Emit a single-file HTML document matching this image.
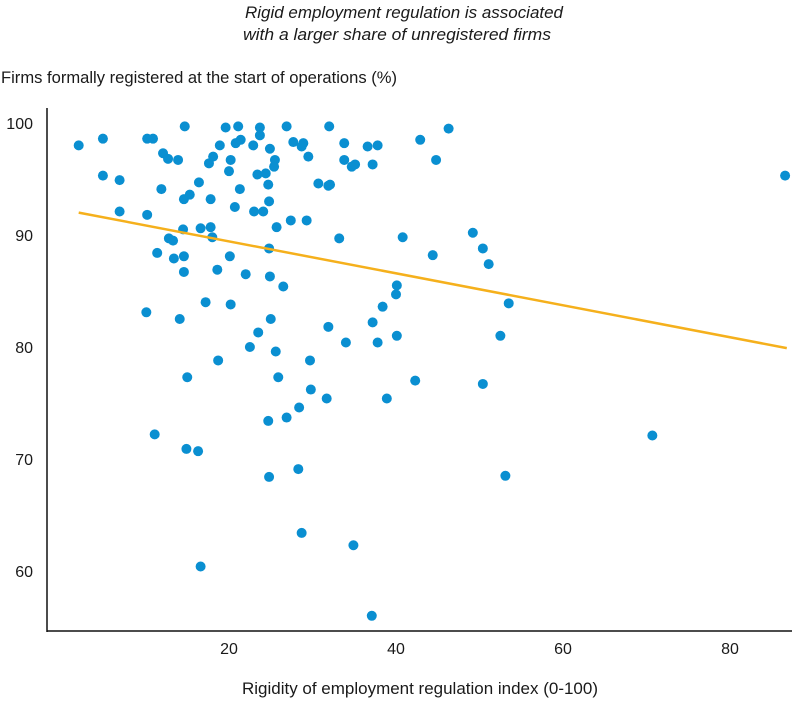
<!DOCTYPE html>
<html><head><meta charset="utf-8">
<style>
body{margin:0;background:#fff;width:800px;height:699px;overflow:hidden;font-family:"Liberation Sans Narrow","Liberation Sans",sans-serif;}
svg text{font-family:"Liberation Sans Narrow","Liberation Sans",sans-serif;fill:#1a1a1a;}
</style></head>
<body>
<svg id="chart" width="800" height="699" xmlns="http://www.w3.org/2000/svg">
<text x="404" y="18" text-anchor="middle" font-size="17" font-style="italic" textLength="318" lengthAdjust="spacingAndGlyphs">Rigid employment regulation is associated</text>
<text x="397" y="40" text-anchor="middle" font-size="17" font-style="italic" textLength="308" lengthAdjust="spacingAndGlyphs">with a larger share of unregistered firms</text>
<text x="1" y="83" font-size="17" textLength="396" lengthAdjust="spacingAndGlyphs">Firms formally registered at the start of operations (%)</text>
<text x="420" y="694" text-anchor="middle" font-size="17" textLength="356" lengthAdjust="spacingAndGlyphs">Rigidity of employment regulation index (0-100)</text>
<line x1="47" y1="108" x2="47" y2="632" stroke="#111" stroke-width="1.5"/>
<line x1="47" y1="631" x2="792" y2="631" stroke="#111" stroke-width="1.5"/>
<g id="yticks"></g><g id="xticks"></g><g id="dots"></g><g id="trend"></g>
</svg>
<script>
const xs=[2.0,4.9,10.2,10.9,14.7,19.6,21.1,23.7,23.7,12.1,12.7,13.9,18.9,20.8,21.4,22.9,24.9,25.5,25.4,17.6,18.1,20.2,20.0,23.4,24.4,24.7,4.9,6.9,16.4,11.9,14.6,15.3,17.8,21.3,20.7,24.8,23.0,24.1,6.9,10.2,25.7,14.5,16.6,17.8,18.0,12.8,13.3,24.8,11.4,13.4,14.6,20.1,14.6,18.6,22.0,24.9,17.2,20.2,10.1,26.9,32.0,46.3,42.9,27.7,28.9,28.7,33.8,36.6,37.8,29.5,33.8,34.7,35.1,37.2,44.8,30.7,31.9,32.1,27.4,29.3,33.2,40.8,49.2,50.4,51.1,44.4,26.5,40.1,40.0,38.4,53.5,14.1,25.0,23.5,31.9,34.0,22.5,25.6,29.7,18.7,15.0,25.9,29.8,31.7,28.4,26.9,24.7,11.1,14.9,16.3,24.8,28.3,37.2,37.8,40.1,52.5,42.3,50.4,38.9,53.1,70.7,86.6,28.7,34.9,37.1,16.6];
const ys=[98.0,98.6,98.6,98.6,99.7,99.6,99.7,99.6,98.9,97.3,96.8,96.7,98.0,98.2,98.5,98.0,97.7,96.7,96.1,96.4,97.0,96.7,95.7,95.4,95.5,94.5,95.3,94.9,94.7,94.1,93.2,93.6,93.2,94.1,92.5,93.0,92.1,92.1,92.1,91.8,90.7,90.5,90.6,90.7,89.8,89.7,89.5,88.8,88.4,87.9,88.1,88.1,86.7,86.9,86.5,86.3,84.0,83.8,83.1,99.7,99.7,99.5,98.5,98.3,98.2,97.9,98.2,97.9,98.0,97.0,96.7,96.1,96.3,96.3,96.7,94.6,94.4,94.5,91.3,91.3,89.7,89.8,90.2,88.8,87.4,88.2,85.4,85.5,84.7,83.6,83.9,82.5,82.5,81.3,81.8,80.4,80.0,79.6,78.8,78.8,77.3,77.3,76.2,75.4,74.6,73.7,73.4,72.2,70.9,70.7,68.4,69.1,82.2,80.4,81.0,81.0,77.0,76.7,75.4,68.5,72.1,95.3,63.4,62.3,56.0,60.4];
const xTicks=[20,40,60,80];
const yTicks=[60,70,80,90,100];
const trendX=[2.0,86.8];
const trendY=[92.0,79.9];
const NS="http://www.w3.org/2000/svg";
function sx(v){return 62+v*8.35;}
function sy(v){return 123+(100-v)*11.2;}
function mk(t,a,p){const e=document.createElementNS(NS,t);for(const k in a)e.setAttribute(k,a[k]);p.appendChild(e);return e;}
const yt=document.getElementById('yticks');
yTicks.forEach(v=>{const t=mk('text',{x:33,y:sy(v)+6,'text-anchor':'end','font-size':16},yt);t.textContent=v;

});
const xt=document.getElementById('xticks');
xTicks.forEach(v=>{const t=mk('text',{x:sx(v),y:654,'text-anchor':'middle','font-size':16},xt);t.textContent=v;

});
const tg=document.getElementById('trend');
const ln=mk('line',{x1:sx(trendX[0]),y1:sy(trendY[0]),x2:sx(trendX[1]),y2:sy(trendY[1]),stroke:'#f5b01c','stroke-width':2.5},tg);


const dg=document.getElementById('dots');
xs.forEach((x,i)=>{const c=mk('circle',{cx:sx(x),cy:sy(ys[i]),r:5,fill:'#0a8fd1'},dg);

});
</script>
</body></html>
